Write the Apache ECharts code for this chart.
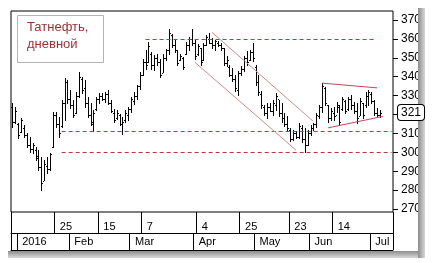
<!DOCTYPE html>
<html>
<head>
<meta charset="utf-8">
<script src="https://cdn.jsdelivr.net/npm/echarts@6/dist/echarts.min.js"></script>
<style>
html, body { margin: 0; padding: 0; background: #fff; }
#chart { width: 432px; height: 263px; }
</style>
</head>
<body>
<div id="chart"></div>
<script>
// trading days, Dec 2015 - Jul 2016
var months = ['2015-12', '2016-01', '2016-02', '2016-03', '2016-04', '2016-05', '2016-06', '2016-07'];
var monthDays = [
  [29, 30],
  [5, 6, 8, 11, 12, 13, 14, 15, 18, 19, 20, 21, 22, 25, 26, 27, 28, 29],
  [1, 2, 3, 4, 5, 8, 9, 10, 11, 12, 15, 16, 17, 18, 19, 20, 22, 24, 25, 26, 29],
  [1, 2, 3, 4, 7, 9, 10, 11, 14, 15, 16, 17, 18, 21, 22, 23, 24, 25, 28, 29, 30, 31],
  [1, 4, 5, 6, 7, 8, 11, 12, 13, 14, 15, 18, 19, 20, 21, 22, 25, 26, 27, 28, 29],
  [4, 5, 6, 10, 11, 12, 13, 16, 17, 18, 19, 20, 23, 24, 25, 26, 27, 30, 31],
  [1, 2, 3, 6, 7, 8, 9, 10, 14, 15, 16, 17, 20, 21, 22, 23, 24, 27, 28, 29, 30],
  [1, 4, 5, 6, 7, 8, 11, 12]
];

// daily OHLC, Tatneft
var opens = [324, 316, 315, 311, 313, 309, 304, 302, 301, 298, 292, 285, 293, 291, 303, 320, 315, 314, 326, 337,
  328, 325, 321, 330, 339, 334, 326, 320, 315, 323, 328, 330, 328, 331, 326, 321, 318, 320, 315, 317,
  320, 323, 327, 330, 335, 341, 348, 348, 352, 346, 350, 348, 342, 350, 354, 362, 357, 354, 349, 350,
  352, 357, 360, 358, 352, 355, 349, 357, 360, 358, 357, 358, 357, 355, 347, 345, 341, 339, 333, 342,
  344, 350, 349, 353, 345, 337, 331, 324, 321, 324, 322, 325, 328, 321, 318, 315, 312, 307, 310, 308,
  313, 307, 304, 310, 313, 315, 319, 324, 334, 325, 318, 321, 320, 324, 323, 327, 323, 328, 325, 322,
  319, 326, 325, 330, 331, 327, 321, 320];
var highs = [326.1, 324.0, 315.5, 318.1, 314.4, 310.2, 308.1, 304.9, 302.8, 301.2, 297.5, 295.9, 297.5, 299.6, 321.3, 321.3, 318.7, 327.7, 339.3, 338.2,
  333.0, 327.7, 331.9, 342.5, 339.8, 338.2, 329.3, 326.1, 322.4, 329.3, 331.4, 331.4, 331.9, 333.0, 327.7, 322.9, 322.4, 320.3, 318.7, 322.4,
  324.0, 329.3, 331.9, 335.6, 342.5, 349.4, 354.1, 358.4, 353.1, 351.5, 352.0, 349.4, 352.0, 354.7, 365.2, 362.6, 359.4, 354.1, 352.0, 350.4,
  358.4, 361.0, 365.2, 359.9, 357.3, 355.2, 357.8, 362.1, 363.1, 360.5, 359.4, 358.9, 357.8, 355.2, 350.9, 346.2, 344.6, 340.9, 343.0, 345.7,
  350.9, 353.6, 354.1, 357.8, 346.2, 340.9, 332.4, 325.0, 326.1, 326.1, 327.7, 331.4, 327.7, 326.1, 320.8, 319.2, 312.9, 311.8, 311.3, 315.5,
  314.4, 312.9, 311.8, 314.4, 315.5, 320.8, 325.0, 336.7, 334.5, 325.0, 323.4, 324.0, 326.6, 325.0, 329.3, 327.7, 329.3, 330.3, 326.6, 326.1,
  328.7, 326.1, 331.9, 333.0, 331.9, 327.7, 323.4, 322.4];
var lows = [313.4, 315.5, 307.6, 310.7, 308.1, 302.8, 300.2, 299.6, 295.9, 290.6, 280.1, 285.3, 289.0, 290.6, 302.8, 313.4, 308.1, 313.4, 317.1, 326.1,
  323.4, 318.7, 320.8, 329.3, 331.4, 324.0, 318.7, 314.4, 311.3, 322.4, 326.1, 327.7, 326.6, 325.6, 321.3, 316.0, 317.6, 314.4, 309.7, 316.0,
  317.1, 321.3, 325.6, 328.2, 333.5, 340.9, 344.1, 347.8, 344.1, 343.5, 346.2, 339.8, 342.5, 348.8, 352.0, 355.7, 353.1, 346.2, 348.8, 344.1,
  352.0, 354.1, 356.8, 349.4, 351.5, 346.2, 348.8, 356.8, 357.8, 355.2, 354.1, 356.2, 354.1, 346.2, 345.7, 340.4, 337.7, 332.4, 330.3, 340.9,
  343.0, 346.2, 348.8, 348.3, 335.6, 330.3, 323.4, 319.7, 318.1, 321.9, 319.7, 322.4, 319.2, 316.0, 313.9, 311.3, 306.0, 306.5, 307.6, 307.6,
  305.4, 300.2, 303.9, 309.2, 311.8, 313.4, 318.1, 321.3, 325.0, 316.0, 317.1, 317.1, 321.3, 314.4, 322.4, 320.8, 322.4, 323.0, 320.8, 315.5,
  319.7, 318.1, 324.0, 325.0, 326.1, 319.7, 318.7, 318.7];
var closes = [316, 322, 309, 317, 309, 304, 302, 304, 297, 292, 284, 294, 291, 299, 320, 315, 310, 326, 337, 328,
  325, 320, 330, 340, 333, 326, 320, 316, 321, 328, 330, 328, 331, 326, 322, 317, 321, 315, 316, 321,
  323, 328, 330, 335, 341, 348, 346, 356, 346, 350, 348, 341, 350, 354, 363, 357, 354, 347, 351, 345,
  357, 360, 358, 351, 356, 348, 357, 361, 358, 357, 359, 357, 355, 347, 349, 341, 339, 334, 342, 344,
  350, 348, 353, 350, 337, 332, 325, 321, 324, 322, 326, 330, 321, 318, 315, 313, 307, 310, 308, 314,
  307, 304, 310, 313, 315, 320, 324, 335, 326, 318, 322, 319, 325, 316, 328, 322, 328, 325, 322, 318,
  327, 320, 330, 332, 327, 321, 320, 321];

// date scale marks
var weekMarks = ['2016-01-25', '2016-02-15', '2016-03-07', '2016-04-04', '2016-04-25', '2016-05-23', '2016-06-14'];
var weekLabels = ['25', '15', '7', '4', '25', '23', '14'];
var monthMarks = ['2016-01-05', '2016-02-01', '2016-03-01', '2016-04-01', '2016-05-04', '2016-06-01', '2016-07-01'];
var monthLabels = ['2016', 'Feb', 'Mar', 'Apr', 'May', 'Jun', 'Jul'];

// support / resistance levels: [value, from, to]
var levelValues = [360, 311, 300];
var levelFrom = ['2016-03-09', '2016-01-27', '2016-01-27'];
var levelTo = ['2016-07-04', '2016-07-12', '2016-07-12'];

// trend lines: channel (2) and triangle (2)
var trendFrom = [['2016-04-11', 363.4], ['2016-04-01', 347.7], ['2016-06-07', 336.6], ['2016-06-09', 312.9]];
var trendTo = [['2016-06-02', 316.3], ['2016-05-25', 301.1], ['2016-07-05', 334.1], ['2016-07-07', 319.0]];
var trendColors = ['#cf8a8a', '#cf8a8a', '#d0405a', '#d0405a'];

var dates = [];
months.forEach(function (m, i) {
  monthDays[i].forEach(function (d) {
    dates.push(m + '-' + (d < 10 ? '0' + d : d));
  });
});

var bars = closes.map(function (c, i) {
  return [dates[i], opens[i], highs[i], lows[i], c];
});

function renderBar(params, api) {
  var idx = api.value(0);
  var pHigh = api.coord([idx, api.value(2)]);
  var pLow = api.coord([idx, api.value(3)]);
  var yo = Math.round(api.coord([idx, api.value(1)])[1]) + 0.5;
  var yc = Math.round(api.coord([idx, api.value(4)])[1]) + 0.5;
  var cx = Math.round(pHigh[0]) + 0.5;
  var st = { stroke: '#000', lineWidth: 1 };
  return {
    type: 'group',
    children: [
      { type: 'line', shape: { x1: cx, y1: Math.round(pHigh[1]), x2: cx, y2: Math.round(pLow[1]) + 1 }, style: st },
      { type: 'line', shape: { x1: cx - 1.5, y1: yo, x2: cx - 0.5, y2: yo }, style: st },
      { type: 'line', shape: { x1: cx + 0.5, y1: yc, x2: cx + 1.5, y2: yc }, style: st }
    ]
  };
}

var marks = [];
levelValues.forEach(function (v, i) {
  marks.push([
    { coord: [levelFrom[i], v], lineStyle: { color: '#b83a3a', type: [4, 3], width: 1 } },
    { coord: [levelTo[i], v] }
  ]);
});
trendFrom.forEach(function (p, i) {
  marks.push([
    { coord: p, lineStyle: { color: trendColors[i], type: 'solid', width: 1 } },
    { coord: trendTo[i] }
  ]);
});
var lastClose = closes[closes.length - 1];

var chart = echarts.init(document.getElementById('chart'), null, { renderer: 'canvas' });

function rowAxis(grid, list, labels, len, margin) {
  return {
    type: 'category', gridIndex: grid, data: dates, boundaryGap: true,
    axisLine: { show: true, lineStyle: { color: '#000', width: 1 } },
    axisTick: {
      show: true, inside: true, length: len, lineStyle: { color: '#000' },
      interval: function (i, v) { return list.indexOf(v) >= 0; }
    },
    axisLabel: {
      show: true, inside: true, margin: margin, align: 'left', verticalAlign: 'middle',
      padding: [0, 0, 0, 4], color: '#000', fontSize: 11, fontFamily: 'Liberation Sans',
      interval: function (i, v) { return list.indexOf(v) >= 0; },
      formatter: function (v) { return labels[list.indexOf(v)]; }
    },
    splitLine: { show: false }
  };
}

function rowYAxis(grid) {
  return {
    type: 'value', gridIndex: grid, position: 'left',
    axisLine: { show: true, lineStyle: { color: '#000', width: 1 } },
    axisTick: { show: false }, axisLabel: { show: false }, splitLine: { show: false }
  };
}

chart.setOption({
  animation: false,
  backgroundColor: '#fff',
  axisPointer: { triggerOn: 'none' },
  grid: [
    { left: 11, top: 11, width: 382, height: 201, show: true, borderColor: '#000', borderWidth: 1, backgroundColor: 'transparent' },
    { left: 11, top: 20, width: 382, height: 189 },
    { left: 11, top: 212, width: 382, height: 21 },
    { left: 11, top: 233, width: 382, height: 17 }
  ],
  xAxis: [
    { type: 'category', gridIndex: 0, data: dates, show: false },
    { type: 'category', gridIndex: 1, data: dates, boundaryGap: true, show: false },
    rowAxis(2, weekMarks, weekLabels, 21, 6),
    rowAxis(3, monthMarks, monthLabels, 17, 8)
  ],
  yAxis: [
    { type: 'value', gridIndex: 0, show: false },
    {
      type: 'value', gridIndex: 1, position: 'right', min: 270, max: 370, interval: 10,
      axisLine: { show: false },
      axisTick: { show: true, length: 5, lineStyle: { color: '#000' } },
      axisLabel: { color: '#000', fontSize: 12, fontFamily: 'Liberation Sans', margin: 8 },
      splitLine: { show: false },
      axisPointer: {
        show: true, status: 'show', value: lastClose, snap: false, triggerTooltip: false,
        type: 'line', lineStyle: { opacity: 0 },
        label: {
          show: true, margin: 5, precision: 0,
          color: '#000', fontSize: 12, fontFamily: 'Liberation Sans',
          backgroundColor: '#fff', borderColor: '#000', borderWidth: 1, padding: [2, 3, 1, 3],
          shadowBlur: 0
        }
      }
    },
    rowYAxis(2),
    rowYAxis(3)
  ],
  series: [
    {
      type: 'custom', xAxisIndex: 1, yAxisIndex: 1, data: bars,
      renderItem: renderBar, encode: { x: 0, y: [1, 2, 3, 4] }, silent: true, z: 3
    },
    {
      type: 'line', xAxisIndex: 1, yAxisIndex: 1,
      data: closes.map(function (c, i) { return [dates[i], c]; }),
      symbol: 'none', lineStyle: { opacity: 0 }, silent: true, z: 2,
      markLine: { silent: true, symbol: ['none', 'none'], label: { show: false }, animation: false, data: marks }
    }
  ],
  graphic: [
    {
      type: 'rect', left: 17, top: 15, z: 10,
      shape: { width: 86, height: 47 },
      style: { fill: '#fff', stroke: '#b4b4b4', lineWidth: 1 }
    },
    {
      type: 'text', left: 27, top: 19, z: 11,
      style: { text: 'Татнефть,\nдневной', fill: '#993333', font: '13px "Liberation Sans"', lineHeight: 17 }
    },
    {
      type: 'rect', left: 418, top: 8, z: 20,
      shape: { width: 7, height: 250 },
      style: { fill: new echarts.graphic.LinearGradient(0, 0, 1, 0, [{ offset: 0, color: '#8c8c8c' }, { offset: 1, color: '#d8d8d8' }]) }
    },
    {
      type: 'rect', left: 8, top: 251, z: 20,
      shape: { width: 410, height: 7 },
      style: { fill: new echarts.graphic.LinearGradient(0, 0, 0, 1, [{ offset: 0, color: '#8c8c8c' }, { offset: 1, color: '#d8d8d8' }]) }
    }
  ]
});
</script>
</body>
</html>
